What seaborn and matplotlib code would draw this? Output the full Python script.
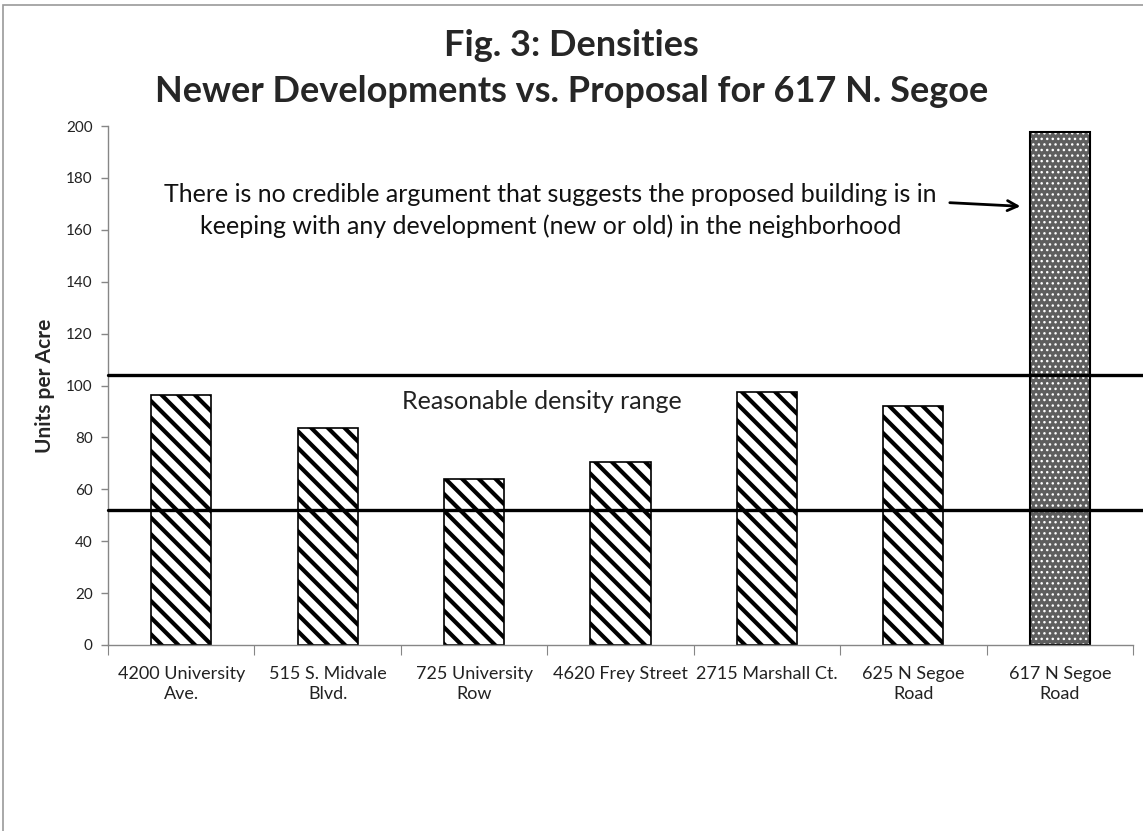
import matplotlib.pyplot as plt
import seaborn as sns
import pandas as pd
from matplotlib.patches import Rectangle

# data
sites = ["4200 University\nAve.", "515 S. Midvale\nBlvd.", "725 University\nRow",
         "4620 Frey Street", "2715 Marshall Ct.", "625 N Segoe\nRoad", "617 N Segoe\nRoad"]
units_per_acre = [96.5, 83.5, 64, 70.5, 97.5, 92, 197.5]
range_low = 52
range_high = 104

sns.set_style("white")
plt.rcParams['font.family'] = ['Lato', 'DejaVu Sans']
plt.rcParams['hatch.linewidth'] = 3.0

df = pd.DataFrame({'site': sites, 'units': units_per_acre})

fig = plt.figure(figsize=(11.43, 8.31), dpi=100)
ax = fig.add_axes([108 / 1143, 1 - 645 / 831, (1133 - 108) / 1143, (645 - 126) / 831])

sns.barplot(data=df, x='site', y='units', color='white', edgecolor='black',
            linewidth=1.2, width=0.41, saturation=1, ax=ax)

bars = ax.patches
for p in bars[:-1]:
    p.set_hatch('\\\\')
# proposed building: gray fill with small white dots
last = bars[-1]
last.set_facecolor('#5e5e5e')
last.set_edgecolor('white')
last.set_hatch('...')
last.set_linewidth(0)
if hasattr(last, 'set_hatch_linewidth'):
    last.set_hatch_linewidth(1.0)
ax.add_patch(Rectangle(last.get_xy(), last.get_width(), last.get_height(),
                       fill=False, edgecolor='black', linewidth=1.5))

ax.set_xlim(-0.5, 6.5)
ax.set_ylim(0, 200)
ax.set_yticks(range(0, 201, 20))
ax.tick_params(axis='y', labelsize=11, colors='#222222', length=5, direction='out', left=True,
               width=1, color='#868686', pad=6)

ax.set_xticks([i - 0.5 for i in range(8)])
ax.set_xticklabels([])
ax.set_xticks(range(7), minor=True)
ax.set_xticklabels(sites, minor=True, fontsize=13, linespacing=1.35)
ax.tick_params(axis='x', which='major', length=7, direction='out', bottom=True, color='#868686')
ax.tick_params(axis='x', which='minor', length=0, pad=15, colors='#222222')

ax.set_xlabel('')
ax.set_ylabel('Units per Acre', fontsize=15, fontweight='bold', labelpad=8)

for side in ['top', 'right']:
    ax.spines[side].set_visible(False)
for side in ['left', 'bottom']:
    ax.spines[side].set_color('#868686')
    ax.spines[side].set_linewidth(1)

for yv in [range_low, range_high]:
    ax.axhline(yv, xmin=0, xmax=1.02, color='black', linewidth=2.4, clip_on=False, zorder=5)

ax.text(2.46, 94, 'Reasonable density range', fontsize=18, ha='center', va='center', color='#222222')
ax.text(2.52, 167.5, 'There is no credible argument that suggests the proposed building is in\n'
        'keeping with any development (new or old) in the neighborhood',
        fontsize=18, ha='center', va='center', color='#111111', linespacing=1.45)
ax.annotate('', xy=(5.75, 169), xytext=(5.23, 170.5),
            arrowprops=dict(arrowstyle='->', color='black', lw=2, mutation_scale=18))

fig.text(0.5, 1 - 45 / 831, 'Fig. 3: Densities', fontsize=26, fontweight='bold', ha='center', va='center')
fig.text(0.5, 1 - 92 / 831, 'Newer Developments vs. Proposal for 617 N. Segoe', fontsize=26,
         fontweight='bold', ha='center', va='center')

fig.patches.append(Rectangle((3 / 1143, -0.05), 1.1, 1 - 5 / 831 + 0.05, transform=fig.transFigure,
                             fill=False, edgecolor='#9a9a9a', linewidth=1.2))

fig.savefig('out.png', dpi=100)
